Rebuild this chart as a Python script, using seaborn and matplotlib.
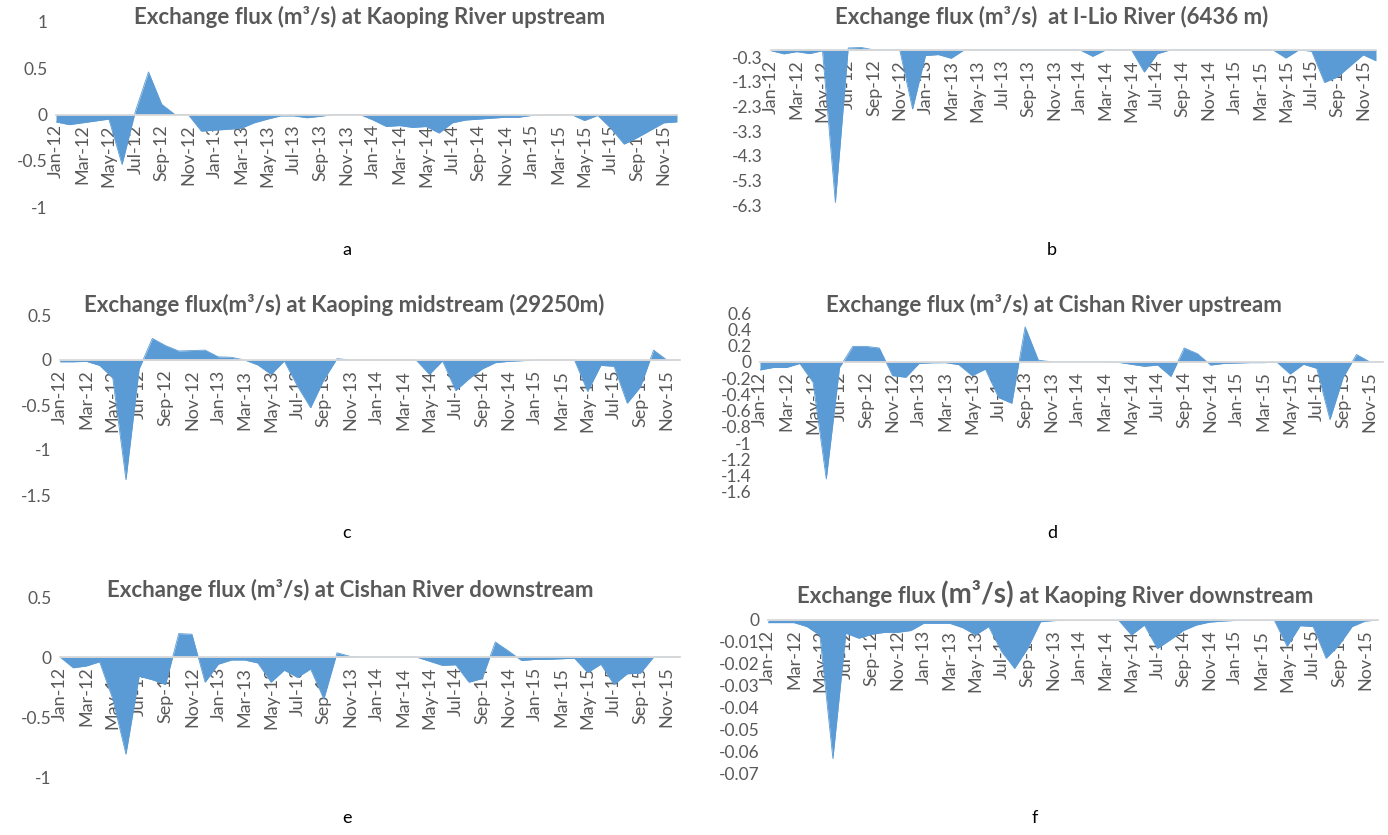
import matplotlib
matplotlib.use("Agg")
import matplotlib.pyplot as plt
import numpy as np
import pandas as pd
import seaborn as sns

months = pd.date_range("2012-01-01", periods=48, freq="MS").strftime("%b-%y").tolist()

kaoping_up = [-0.08, -0.11, -0.09, -0.07, -0.05, -0.54, 0.03, 0.46, 0.11, 0.0,
              0.0, -0.18, -0.17, -0.16, -0.15, -0.09, -0.05, -0.015, -0.015, -0.035,
              -0.02, 0.0, 0.0, 0.0, -0.06, -0.13, -0.12, -0.14, -0.13, -0.2,
              -0.09, -0.06, -0.05, -0.04, -0.03, -0.03, -0.01, -0.005, -0.005, 0.0,
              -0.065, -0.01, -0.15, -0.32, -0.25, -0.17, -0.09, -0.08]

ilio = [-0.03, -0.16, -0.07, -0.15, -0.03, -6.2, 0.08, 0.1, 0.0, 0.0,
        0.0, -2.4, -0.23, -0.19, -0.34, 0.0, 0.0, 0.0, 0.0, 0.0,
        0.0, 0.0, 0.0, 0.0, 0.0, -0.26, 0.0, 0.0, 0.0, -0.9,
        -0.16, 0.0, 0.0, 0.0, 0.0, 0.0, 0.0, 0.0, 0.0, 0.0,
        -0.33, 0.0, -0.05, -1.32, -1.1, -0.65, -0.2, -0.44]

kaoping_mid = [-0.02, -0.02, -0.015, -0.06, -0.2, -1.33, -0.1, 0.24, 0.16, 0.1,
               0.105, 0.11, 0.035, 0.03, 0.0, -0.055, -0.16, -0.01, -0.29, -0.53,
               -0.22, 0.015, 0.0, 0.0, 0.0, 0.0, 0.0, 0.0, -0.16, -0.01,
               -0.34, -0.21, -0.1, -0.03, -0.015, -0.008, 0.0, 0.0, 0.0, 0.0,
               -0.35, -0.06, -0.07, -0.48, -0.3, 0.11, 0.0, 0.0]

cishan_up = [-0.1, -0.07, -0.07, -0.02, -0.25, -1.44, -0.07, 0.19, 0.19, 0.17,
             -0.17, -0.19, -0.02, -0.012, -0.01, -0.035, -0.17, -0.09, -0.44, -0.51,
             0.43, 0.02, 0.0, 0.0, 0.0, 0.0, 0.0, -0.005, -0.03, -0.055,
             -0.04, -0.18, 0.17, 0.1, -0.04, -0.02, -0.015, -0.01, -0.01, -0.005,
             -0.15, -0.03, -0.08, -0.71, -0.19, 0.09, 0.0, 0.0]

cishan_down = [0.0, -0.09, -0.075, -0.04, -0.35, -0.81, -0.16, -0.19, -0.23, 0.195,
               0.19, -0.21, -0.06, -0.025, -0.025, -0.05, -0.21, -0.11, -0.17, -0.1,
               -0.35, 0.035, 0.005, 0.0, 0.0, 0.0, 0.0, 0.0, -0.035, -0.07,
               -0.065, -0.21, -0.18, 0.125, 0.05, -0.03, -0.02, -0.02, -0.015, -0.01,
               -0.13, -0.06, -0.23, -0.14, -0.135, 0.0, 0.0, 0.0]

kaoping_down = [-0.0012, -0.0012, -0.0012, -0.003, -0.007, -0.063, -0.006, -0.0083, -0.0065, -0.0056,
                -0.0056, -0.0048, -0.0015, -0.0015, -0.0015, -0.0035, -0.0068, -0.003, -0.0144, -0.022,
                -0.013, -0.0008, -0.0003, 0.0, 0.0, 0.0, 0.0, 0.0, -0.0068, -0.0023,
                -0.013, -0.009, -0.0048, -0.0023, -0.001, -0.0005, -0.0002, 0.0, 0.0, 0.0,
                -0.012, -0.0026, -0.003, -0.0174, -0.0114, -0.003, -0.0005, 0.0]

titles = ["Exchange flux (m³/s) at Kaoping River upstream",
          "Exchange flux (m³/s)  at I-Lio River (6436 m)",
          "Exchange flux(m³/s) at Kaoping midstream (29250m)",
          "Exchange flux (m³/s) at Cishan River upstream",
          "Exchange flux (m³/s) at Cishan River downstream",
          None]  # f is drawn in pieces below
letters = ["a", "b", "c", "d", "e", "f"]

sns.set_theme(style="white")
plt.rcParams["font.family"] = ["Lato", "DejaVu Sans"]

W, H = 1388, 835
fig = plt.figure(figsize=(W / 100, H / 100), dpi=100)

gray = "#595959"
blue = "#5B9BD5"

# pixel boxes: left, right, top, bottom ; ylim ; yticks ; title pos ; letter pos
panels = [
    (kaoping_up, (56, 677, 22, 207), (-1, 1), np.arange(-1, 1.01, 0.5), (370, 17), (347, 250)),
    (ilio, (771, 1376, 45, 205), (-6.3, 0.2), np.arange(-6.3, -0.29, 1.0), (1052, 17), (1052, 250)),
    (kaoping_mid, (60, 680, 315, 495), (-1.5, 0.5), np.arange(-1.5, 0.51, 0.5), (344, 305), (347, 533)),
    (cishan_up, (760, 1383, 313, 492), (-1.6, 0.6), np.arange(-1.6, 0.61, 0.2), (1054, 305), (1052, 533)),
    (cishan_down, (60, 680, 597, 777), (-1, 0.5), np.arange(-1, 0.51, 0.5), (350, 590), (347, 818)),
    (kaoping_down, (768, 1378, 620, 774), (-0.07, 0), np.arange(-0.07, 0.0001, 0.01), (1054, 595), (1035, 818)),
]

x = np.arange(len(months))
for (vals, box, ylim, yt, tpos, lpos), title, letter in zip(panels, titles, letters):
    l, r, t, b = box
    ax = fig.add_axes([l / W, 1 - b / H, (r - l) / W, (b - t) / H])
    df = pd.DataFrame({"month": x, "flux": vals})
    sns.lineplot(data=df, x="month", y="flux", ax=ax, color=blue, linewidth=0.6)
    ax.fill_between(df["month"], df["flux"], 0, color=blue, linewidth=0)
    ax.set_xlim(0, len(months) - 1)
    ax.set_ylim(*ylim)
    ax.set_xlabel("")
    ax.set_ylabel("")
    for s in ["top", "left", "right"]:
        ax.spines[s].set_visible(False)
    # category axis crosses at zero like in excel
    ax.spines["bottom"].set_position(("data", 0))
    ax.spines["bottom"].set_color("#d9d9d9")
    ax.spines["bottom"].set_linewidth(1.3)
    ax.spines["bottom"].set_zorder(5)
    ax.set_xticks(x)
    ax.set_xticklabels([m if i % 2 == 0 else "" for i, m in enumerate(months)],
                       rotation=90, color=gray, fontsize=13)
    ax.tick_params(axis="x", direction="out", length=5, width=1, color="#d9d9d9", pad=2)
    yt = np.round(yt, 4)
    ax.set_yticks(yt)
    ax.set_yticklabels([f"{v + 0.0:g}" for v in yt], color=gray, fontsize=12.5)
    ax.tick_params(axis="y", length=0, pad=6)
    ax.patch.set_alpha(0)
    if title is not None:
        fig.text(tpos[0] / W, 1 - tpos[1] / H, title, ha="center", va="center",
                 fontsize=16, fontweight="bold", color=gray)
    fig.text(lpos[0] / W, 1 - lpos[1] / H, letter, ha="center", va="center",
             fontsize=13, color="black")

# panel f title has a bigger unit part
axf = fig.get_axes()[-1]
t1 = fig.text(797 / W, 1 - 603 / H, "Exchange flux ", ha="left", va="baseline",
              fontsize=16, fontweight="bold", color=gray)
a2 = axf.annotate("(m³/s)", xy=(1, 0), xycoords=t1, va="bottom", ha="left",
                  fontsize=20, fontweight="bold", color=gray, annotation_clip=False)
axf.annotate(" at Kaoping River downstream", xy=(1, 0), xycoords=a2,
             va="bottom", ha="left", fontsize=16, fontweight="bold",
             color=gray, annotation_clip=False)

fig.savefig("out.png", dpi=100)
